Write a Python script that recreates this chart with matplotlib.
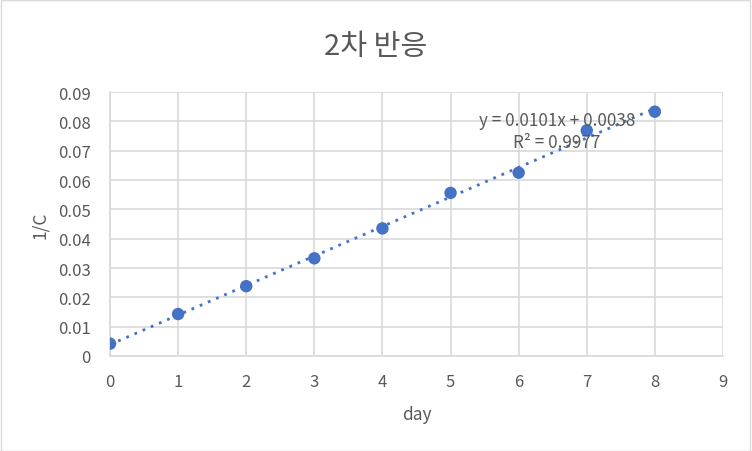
import matplotlib
matplotlib.use("Agg")
import matplotlib.pyplot as plt
import numpy as np

days = [0, 1, 2, 3, 4, 5, 6, 7, 8]
inv_c = [0.0042, 0.0143, 0.0238, 0.0333, 0.0435, 0.0556, 0.0625, 0.0769, 0.0833]
x_ticks = [0, 1, 2, 3, 4, 5, 6, 7, 8, 9]
y_ticks = [0, 0.01, 0.02, 0.03, 0.04, 0.05, 0.06, 0.07, 0.08, 0.09]
y_tick_labels = ["0", "0.01", "0.02", "0.03", "0.04", "0.05", "0.06", "0.07", "0.08", "0.09"]
title = "2차 반응"
eq_text = "y = 0.0101x + 0.0038"
r2_text = "R² = 0.9977"

plt.rcParams['font.family'] = ['Noto Sans CJK KR', 'DejaVu Sans']
txt = '#595959'
grid = '#d9d9d9'
blue = '#4472C4'

fig = plt.figure(figsize=(7.52, 4.52), dpi=100)
fig.patch.set_facecolor('white')
fig.patches.append(plt.Rectangle((0.001, 0.001), 0.997, 0.997, transform=fig.transFigure,
                                 fill=False, edgecolor='#d9d9d9', linewidth=1))
ax = fig.add_axes([0.1463, 0.2102, 0.8151, 0.584])

slope, inter = np.polyfit(days, inv_c, 1)
xs = np.array([days[0], days[-1]])
ax.plot(xs, slope * xs + inter, linestyle=(0, (1, 2.2)), color=blue, linewidth=2, zorder=2)
ax.scatter(days, inv_c, s=80, color=blue, zorder=3, edgecolors='none')

ax.set_xlim(0, 9)
ax.set_ylim(0, 0.09)
ax.set_xticks(x_ticks)
ax.set_yticks(y_ticks)
ax.set_yticklabels(y_tick_labels)
ax.grid(True, color=grid, linewidth=1.2)
ax.set_axisbelow(True)
for s in ['top', 'right']:
    ax.spines[s].set_visible(False)
for s in ['left', 'bottom']:
    ax.spines[s].set_color(grid)
    ax.spines[s].set_linewidth(1.2)
ax.tick_params(length=0, colors=txt, labelsize=12)
ax.tick_params(axis='x', pad=12)
ax.tick_params(axis='y', pad=14)

ax.set_xlabel("day", color=txt, fontsize=12.5, labelpad=11)
ax.set_ylabel("1/C", color=txt, fontsize=12.5, labelpad=6)
fig.text(0.5, 0.897, title, ha='center', va='center', fontsize=21, color=txt)

ax.text(6.56, 0.0805, eq_text, ha='center', va='center', fontsize=12.3, color=txt, zorder=4)
ax.text(6.56, 0.0730, r2_text, ha='center', va='center', fontsize=12.3, color=txt, zorder=4)

fig.savefig("out.png", dpi=100)
